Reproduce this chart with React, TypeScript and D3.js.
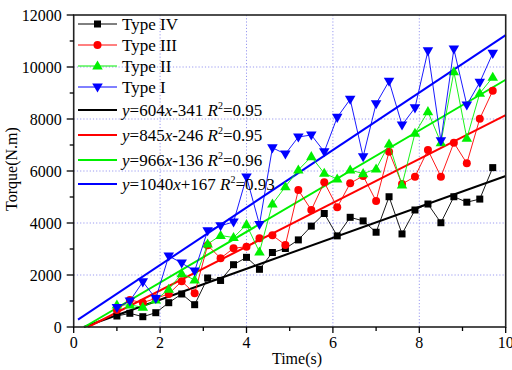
import React from "react";
import * as d3 from "d3";

const timeValues = [1.0, 1.3, 1.6, 1.9, 2.2, 2.5, 2.8, 3.1, 3.4, 3.7, 4.0, 4.3, 4.6, 4.9, 5.2, 5.5, 5.8, 6.1, 6.4, 6.7, 7.0, 7.3, 7.6, 7.9, 8.2, 8.5, 8.8, 9.1, 9.4, 9.7];
const typeIV = [423, 527, 396, 550, 935, 1270, 858, 1885, 1790, 2396, 2680, 2219, 2865, 3020, 3350, 3880, 4365, 3505, 4219, 4080, 3645, 5010, 3580, 4500, 4730, 4010, 5010, 4800, 4920, 6130];
const typeIII = [650, 1038, 935, 1104, 1270, 1758, 1296, 3142, 2645, 3027, 3088, 3412, 3527, 3154, 5269, 4500, 5565, 4604, 5527, 5810, 4846, 6742, 5500, 5781, 6808, 5781, 7088, 6296, 8012, 9088];
const typeII = [846, 850, 758, 1038, 1450, 2050, 1808, 3192, 3520, 3440, 3935, 2885, 4731, 5396, 6038, 6550, 5912, 5692, 6038, 5900, 6077, 7038, 5462, 7450, 8281, 7088, 9819, 7258, 8988, 9604];
const typeI = [750, 1000, 1738, 1096, 2731, 2462, 2154, 3704, 3896, 4038, 5769, 3942, 6892, 6654, 7308, 7385, 6742, 8065, 8758, 6550, 8588, 9454, 7769, 8430, 10623, 7165, 10692, 8538, 9411, 10527];

const seriesNames = ["Type IV", "Type III", "Type II", "Type I"];
const seriesColors = ["#000000", "#ff0000", "#00f000", "#0000ff"];
const seriesSymbols = ["square", "circle", "triangle", "triangleDown"];

// fitted lines as drawn in the picture
const fitSlopes = [595, 843, 975, 1105];
const fitIntercepts = [-140, -280, -240, 175];
const fitXStart = 0.1;
const fitXEnd = 10;
// printed equations
const eqSlopes = ["604", "845", "966", "1040"];
const eqIntercepts = ["-341", "-246", "-136", "+167"];
const eqR2 = ["0.95", "0.95", "0.96", "0.93"];

const xTicks = [0, 2, 4, 6, 8, 10];
const xMinor = [1, 3, 5, 7, 9];
const yTicks = [0, 2000, 4000, 6000, 8000, 10000, 12000];
const yMinor = [1000, 3000, 5000, 7000, 9000, 11000];

const W = 512, H = 370;
const L = 73.7, R = 505.7, T = 15, B = 327;
const FONT = "'Liberation Serif', 'Times New Roman', serif";

function marker(kind: string, x: number, y: number, color: string, key?: any) {
  if (kind === "square") {
    return <rect key={key} x={x - 3.5} y={y - 3.5} width={7} height={7} fill={color} />;
  }
  if (kind === "circle") {
    return <circle key={key} cx={x} cy={y} r={4} fill={color} />;
  }
  const p = d3.symbol().type(d3.symbolTriangle).size(48)() as string;
  const rot = kind === "triangleDown" ? 180 : 0;
  return <path key={key} d={p} transform={`translate(${x},${kind === "triangleDown" ? y - 0.5 : y + 0.5}) rotate(${rot})`} fill={color} />;
}

export default function App() {
  const x = d3.scaleLinear().domain([0, 10]).range([L, R]);
  const y = d3.scaleLinear().domain([0, 12000]).range([B, T]);
  const data = [typeIV, typeIII, typeII, typeI];
  const line = d3.line<number>().x((_, i) => x(timeValues[i])).y((d) => y(d));

  const fitLines = fitSlopes.map((m, k) => {
    const b = fitIntercepts[k];
    let x0 = fitXStart;
    if (m * x0 + b < 0) x0 = -b / m;
    let x1 = fitXEnd;
    if (m * x1 + b > 12000) x1 = (12000 - b) / m;
    return { x0, y0: m * x0 + b, x1, y1: m * x1 + b };
  });

  const legendRows = [24, 45, 66, 87, 110, 135, 160, 184];

  return (
    <svg width={W} height={H} style={{ position: "absolute", left: 0, top: 0, background: "#fff" }} fontFamily={FONT}>
      <rect x={0} y={0} width={W} height={H} fill="#fff" />
      {/* grid */}
      {xTicks.filter((t) => t > 0 && t < 10).map((t) => (
        <line key={"gx" + t} x1={x(t)} x2={x(t)} y1={T} y2={B} stroke="#9a9af0" strokeWidth={1} strokeDasharray="1.2,2" />
      ))}
      {yTicks.filter((t) => t > 0 && t < 12000).map((t) => (
        <line key={"gy" + t} x1={L} x2={R} y1={y(t)} y2={y(t)} stroke="#9a9af0" strokeWidth={1} strokeDasharray="1.2,2" />
      ))}

      {/* fit lines */}
      <g>
        {fitLines.map((f, k) => (
          <line key={"f" + k} x1={x(f.x0)} y1={y(f.y0)} x2={x(f.x1)} y2={y(f.y1)} stroke={seriesColors[k]} strokeWidth={2} />
        ))}
      </g>

      {/* series */}
      {data.map((vals, k) => (
        <g key={"s" + k}>
          <path d={line(vals) as string} fill="none" stroke={seriesColors[k]} strokeWidth={0.9} />
          {vals.map((v, i) => marker(seriesSymbols[k], x(timeValues[i]), y(v), seriesColors[k], i))}
        </g>
      ))}

      {/* frame */}
      <rect x={L} y={T} width={R - L} height={B - T} fill="none" stroke="#222" strokeWidth={1.6} />

      {/* x axis ticks */}
      {xTicks.map((t) => (
        <g key={"xt" + t}>
          <line x1={x(t)} x2={x(t)} y1={B} y2={B + 6} stroke="#000" strokeWidth={1.3} />
          <text x={x(t)} y={B + 21} fontSize={16} textAnchor="middle">{t}</text>
        </g>
      ))}
      {xMinor.map((t) => (
        <line key={"xm" + t} x1={x(t)} x2={x(t)} y1={B} y2={B + 4} stroke="#000" strokeWidth={1.3} />
      ))}
      {/* y axis ticks */}
      {yTicks.map((t) => (
        <g key={"yt" + t}>
          <line x1={L - 7} x2={L} y1={y(t)} y2={y(t)} stroke="#000" strokeWidth={1.3} />
          <text x={L - 12} y={y(t) + 5.5} fontSize={16} textAnchor="end">{t}</text>
        </g>
      ))}
      {yMinor.map((t) => (
        <line key={"ym" + t} x1={L - 4} x2={L} y1={y(t)} y2={y(t)} stroke="#000" strokeWidth={1.3} />
      ))}

      {/* axis titles */}
      <text x={297} y={364} fontSize={16} textAnchor="middle">Time(s)</text>
      <text transform={`translate(17,${(T + B) / 2 - 2}) rotate(-90)`} fontSize={16} textAnchor="middle">Torque(N.m)</text>

      {/* legend */}
      {seriesNames.map((n, k) => (
        <g key={"l" + k}>
          <line x1={78} x2={117} y1={legendRows[k]} y2={legendRows[k]} stroke={seriesColors[k]} strokeWidth={1} />
          {marker(seriesSymbols[k], 97.5, legendRows[k], seriesColors[k])}
          <text x={122} y={legendRows[k] + 6} fontSize={17}>{n}</text>
        </g>
      ))}
      {eqSlopes.map((s, k) => {
        const ry = legendRows[4 + k];
        return (
          <g key={"e" + k}>
            <line x1={78} x2={117} y1={ry} y2={ry} stroke={seriesColors[k]} strokeWidth={2} />
            <text x={122} y={ry + 6} fontSize={17}>
              <tspan fontStyle="italic">y</tspan>
              <tspan>={s}</tspan>
              <tspan fontStyle="italic">x</tspan>
              <tspan>{eqIntercepts[k]} </tspan>
              <tspan fontStyle="italic">R</tspan>
              <tspan fontSize={10} dy={-7}>2</tspan>
              <tspan dy={7}>={eqR2[k]}</tspan>
            </text>
          </g>
        );
      })}
    </svg>
  );
}
